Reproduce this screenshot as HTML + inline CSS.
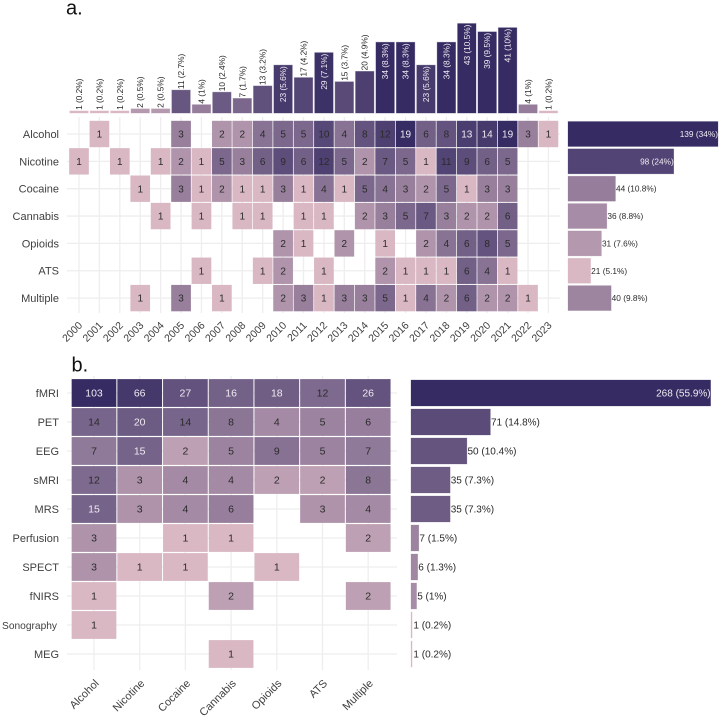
<!DOCTYPE html>
<html lang="en">
<head>
<meta charset="utf-8">
<title>Substance and modality publication heatmaps</title>
<style>
html,body{margin:0;padding:0;background:#fff;}
#chart{display:block;width:720px;height:716px;filter:blur(0.3px);}
text{font-family:"Liberation Sans",Arial,sans-serif;}
</style>
</head>
<body>
<svg id="chart" xmlns="http://www.w3.org/2000/svg" width="720" height="716" viewBox="0 0 720 716">
  <text x="66" y="14.5" font-size="20" fill="#111">a.</text>
  <text x="71.5" y="371.5" font-size="20" fill="#111">b.</text>
  <g id="a-grid"></g>
  <g id="a-top"></g>
  <g id="a-heat"></g>
  <g id="a-side"></g>
  <g id="a-axis"></g>
  <g id="b-grid"></g>
  <g id="b-heat"></g>
  <g id="b-side"></g>
  <g id="b-axis"></g>
</svg>
<script>
// ---------- Panel a data ----------
const years = ["2000","2001","2002","2003","2004","2005","2006","2007","2008","2009","2010","2011","2012","2013","2014","2015","2016","2017","2018","2019","2020","2021","2022","2023"];
const substances = ["Alcohol","Nicotine","Cocaine","Cannabis","Opioids","ATS","Multiple"];
const alcoholByYear  = [0,1,0,0,0,3,0,2,2,4,5,5,10,4,8,12,19,6,8,13,14,19,3,1];
const nicotineByYear = [1,0,1,0,1,2,1,5,3,6,9,6,12,5,2,7,5,1,11,9,6,5,0,0];
const cocaineByYear  = [0,0,0,1,0,3,1,2,1,1,3,1,4,1,5,4,3,2,5,1,3,3,0,0];
const cannabisByYear = [0,0,0,0,1,0,1,0,1,1,0,1,1,0,2,3,5,7,3,2,2,6,0,0];
const opioidsByYear  = [0,0,0,0,0,0,0,0,0,0,2,1,0,2,0,1,0,2,4,6,8,5,0,0];
const atsByYear      = [0,0,0,0,0,0,1,0,0,1,2,0,1,0,0,2,1,1,1,6,4,1,0,0];
const multipleByYear = [0,0,0,1,0,3,0,1,0,0,2,3,1,3,3,5,1,4,2,6,2,2,1,0];
const yearTotals   = [1,1,1,2,2,11,4,10,7,13,23,17,29,15,20,34,34,23,34,43,39,41,4,1];
const yearPercents = ["0.2","0.2","0.2","0.5","0.5","2.7","1","2.4","1.7","3.2","5.6","4.2","7.1","3.7","4.9","8.3","8.3","5.6","8.3","10.5","9.5","10","1","0.2"];
const substanceTotals   = [139,98,44,36,31,21,40];
const substancePercents = ["34","24","10.8","8.8","7.6","5.1","9.8"];

// ---------- Panel b data ----------
const modalities = ["fMRI","PET","EEG","sMRI","MRS","Perfusion","SPECT","fNIRS","Sonography","MEG"];
const fmriBySubstance       = [103,66,27,16,18,12,26];
const petBySubstance        = [14,20,14,8,4,5,6];
const eegBySubstance        = [7,15,2,5,9,5,7];
const smriBySubstance       = [12,3,4,4,2,2,8];
const mrsBySubstance        = [15,3,4,6,0,3,4];
const perfusionBySubstance  = [3,0,1,1,0,0,2];
const spectBySubstance      = [3,1,1,0,1,0,0];
const fnirsBySubstance      = [1,0,0,2,0,0,2];
const sonographyBySubstance = [1,0,0,0,0,0,0];
const megBySubstance        = [0,0,0,1,0,0,0];
const modalityTotals   = [268,71,50,35,35,7,6,5,1,1];
const modalityPercents = ["55.9","14.8","10.4","7.3","7.3","1.5","1.3","1","0.2","0.2"];

const matrixA = [alcoholByYear,nicotineByYear,cocaineByYear,cannabisByYear,opioidsByYear,atsByYear,multipleByYear];
const matrixB = [fmriBySubstance,petBySubstance,eegBySubstance,smriBySubstance,mrsBySubstance,perfusionBySubstance,spectBySubstance,fnirsBySubstance,sonographyBySubstance,megBySubstance];

// ---------- Axis functions ----------
const xA = i => 79 + i * 20.41;
const yA = i => 134 + i * 27.35;
const topY = v => 113 - v * 2.08;
const sideAX = v => v * 1.079;
const xB = i => 94 + i * 45.7;
const yB = i => 393 + i * 29.0;
const sideBX = v => v * 1.118;

const NS = "http://www.w3.org/2000/svg";
const PINK = [217,184,196], DARK = [54,44,99];
const LIGHT_TEXT = "#f0ebf2", DARK_TEXT = "#2b2b2b", AXIS_TEXT = "#404040";
function colour(v, lo, hi){
  let t = (Math.log(Math.max(v,lo)) - Math.log(lo)) / (Math.log(hi) - Math.log(lo));
  t = Math.pow(Math.min(1, Math.max(0, t)), 0.93);
  const c = PINK.map((p,k) => Math.round(p + (DARK[k] - p) * t));
  return "rgb(" + c.join(",") + ")";
}
function mk(parentId, tag, attrs, txt){
  const el = document.createElementNS(NS, tag);
  for (const k in attrs) el.setAttribute(k, attrs[k]);
  if (txt !== undefined) el.textContent = txt;
  document.getElementById(parentId).appendChild(el);
  return el;
}
function gridLine(parentId, x1, y1, x2, y2){
  const el = mk(parentId, "line", {x1:x1, y1:y1, x2:x2, y2:y2, stroke:"#efedef", "stroke-width":1.3});
  
  
}

// ---------- Panel a ----------
years.forEach((y,i) => gridLine("a-grid", xA(i), 117, xA(i), 313));
substances.forEach((s,i) => gridLine("a-grid", 67, yA(i), 560, yA(i)));

yearTotals.forEach((v,i) => {
  const fill = colour(v, 1, 34);
  const bar = mk("a-top", "rect", {x:xA(i)-9.2, y:topY(v), width:18.4, height:113-topY(v), fill:fill, stroke:fill, "stroke-opacity":0.45, "stroke-width":0.8});
  
  
  const inside = v >= 23;
  const py = inside ? topY(v) + 1 : topY(v) - 1;
  const label = mk("a-top", "text", {
    x:xA(i), y:py+3, "font-size":8.3, fill: inside ? LIGHT_TEXT : DARK_TEXT,
    "text-anchor": inside ? "end" : "start",
    transform:"rotate(-90 " + xA(i) + " " + py + ")"
  }, v + " (" + yearPercents[i] + "%)");
  
  
});

matrixA.forEach((row,r) => row.forEach((v,c) => {
  if (!v) return;
  const cell = mk("a-heat", "rect", {x:xA(c)-9.85, y:yA(r)-13.2, width:19.7, height:26.4, fill:colour(v,1,19)});
  
  
  const t = mk("a-heat", "text", {x:xA(c), y:yA(r)+3.6, "font-size":10, "text-anchor":"middle", fill: v >= 13 ? LIGHT_TEXT : DARK_TEXT}, v);
  
  
}));

substanceTotals.forEach((v,i) => {
  const fill = colour(v, 21, 139);
  const bar = mk("a-side", "rect", {x:568, y:yA(i)-12.5, width:sideAX(v), height:25, fill:fill, stroke:fill, "stroke-opacity":0.4, "stroke-width":0.6});
  
  
  const inside = v >= 90;
  const t = mk("a-side", "text", {x: inside ? 568+sideAX(v) : 568+sideAX(v)+0.5, y:yA(i)+3, "font-size":8.3, "text-anchor": inside ? "end" : "start", fill: inside ? LIGHT_TEXT : DARK_TEXT}, v + " (" + substancePercents[i] + "%)");
  
  
});

substances.forEach((s,i) => {
  const t = mk("a-axis", "text", {x:59, y:yA(i)+3.9, "font-size":11, "text-anchor":"end", fill:AXIS_TEXT}, s);
  
  
});
years.forEach((y,i) => {
  const ax = xA(i)+4, ay = 326;
  const t = mk("a-axis", "text", {x:ax, y:ay, "font-size":10.5, "text-anchor":"end", fill:AXIS_TEXT, transform:"rotate(-45 " + ax + " " + ay + ")"}, y);
  
  
});

// ---------- Panel b ----------
substances.forEach((s,i) => gridLine("b-grid", xB(i), 376, xB(i), 670));
modalities.forEach((m,i) => gridLine("b-grid", 67, yB(i), 397, yB(i)));

matrixB.forEach((row,r) => row.forEach((v,c) => {
  if (!v) return;
  const cell = mk("b-heat", "rect", {x:xB(c)-22.35, y:yB(r)-13.9, width:44.7, height:27.8, fill:colour(v,1,103)});
  
  
  const t = mk("b-heat", "text", {x:xB(c), y:yB(r)+3.7, "font-size":10.5, "text-anchor":"middle", fill: (v >= 15) ? LIGHT_TEXT : DARK_TEXT}, v);
  
  
}));

modalityTotals.forEach((v,i) => {
  const fill = colour(v, 1, 268);
  const bar = mk("b-side", "rect", {x:411, y:yB(i)-13, width:sideBX(v), height:26, fill:fill, stroke:fill, "stroke-opacity":0.4, "stroke-width":0.6});
  
  
  const inside = v >= 100;
  const t = mk("b-side", "text", {x: inside ? 411+sideBX(v) : 411+sideBX(v)+(v < 3 ? 1.3 : 0.6), y:yB(i)+3.6, "font-size":10, "text-anchor": inside ? "end" : "start", fill: inside ? LIGHT_TEXT : DARK_TEXT}, v + " (" + modalityPercents[i] + "%)");
  
  
});

modalities.forEach((m,i) => {
  const t = mk("b-axis", "text", {x: m === "Sonography" ? 57 : 59, y:yB(i)+3.9, "font-size": m === "Sonography" ? 10.2 : 11, "text-anchor":"end", fill:AXIS_TEXT}, m);
  
  
});
substances.forEach((s,i) => {
  const ax = xB(i)+5.5, ay = 684;
  const t = mk("b-axis", "text", {x:ax, y:ay, "font-size":11, "text-anchor":"end", fill:AXIS_TEXT, transform:"rotate(-45 " + ax + " " + ay + ")"}, s);
  
  
});
</script>
</body>
</html>
